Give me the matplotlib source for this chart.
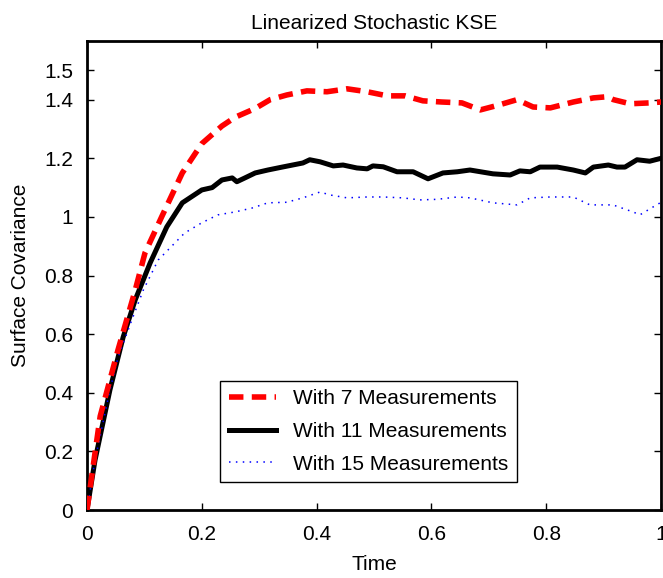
import matplotlib
matplotlib.use("Agg")
import matplotlib.pyplot as plt

plt.rcParams['font.family'] = ['Liberation Sans', 'DejaVu Sans']

# values
x_7 = [0, .023, .054, .084, .101, .13, .166, .2, .235, .258, .293, .319, .348,
       .383, .418, .453, .488, .523, .554, .585, .618, .653, .685, .714, .749,
       .777, .807, .847, .882, .906, .917, .946, .98, 1.0]
y_7 = [0, .32, .546, .75, .877, 1.0, 1.15, 1.25, 1.31, 1.34, 1.37, 1.40, 1.416,
       1.43, 1.427, 1.437, 1.427, 1.413, 1.413, 1.396, 1.392, 1.389, 1.365, 1.38,
       1.40, 1.375, 1.372, 1.392, 1.406, 1.41, 1.40, 1.386, 1.389, 1.392]

x_11 = [0, .014, .04, .063, .084, .11, .139, .166, .183, .2, .218, .235, .253,
        .261, .275, .293, .315, .34, .376, .388, .406, .429, .446, .47, .488,
        .498, .516, .54, .568, .594, .62, .645, .667, .707, .737, .754, .772,
        .789, .819, .847, .868, .882, .908, .923, .937, .958, .98, 1.0]
y_11 = [0, .17, .41, .59, .717, .843, .966, 1.048, 1.07, 1.092, 1.10, 1.126,
        1.133, 1.12, 1.133, 1.15, 1.16, 1.17, 1.184, 1.195, 1.188, 1.174, 1.177,
        1.167, 1.164, 1.174, 1.171, 1.154, 1.154, 1.13, 1.15, 1.154, 1.16, 1.147,
        1.143, 1.157, 1.154, 1.17, 1.17, 1.16, 1.15, 1.17, 1.177, 1.17, 1.17,
        1.195, 1.19, 1.2]

x_15 = [0, .014, .04, .054, .078, .098, .124, .17, .2, .228, .258, .287, .315,
        .348, .376, .406, .423, .453, .488, .516, .55, .58, .61, .645, .667,
        .707, .749, .772, .807, .847, .876, .916, .951, .963, .986, 1.0]
y_15 = [0, .17, .41, .52, .648, .75, .853, .945, .98, 1.007, 1.017, 1.03, 1.048,
        1.05, 1.065, 1.085, 1.075, 1.065, 1.068, 1.068, 1.065, 1.058, 1.06,
        1.068, 1.065, 1.048, 1.041, 1.065, 1.068, 1.068, 1.041, 1.041, 1.017,
        1.007, 1.034, 1.05]

labels = ["With 7 Measurements", "With 11 Measurements", "With 15 Measurements"]
y_ticks = [0, 0.2, 0.4, 0.6, 0.8, 1, 1.2, 1.4, 1.5]
y_tick_labels = ["0", "0.2", "0.4", "0.6", "0.8", "1", "1.2", "1.4", "1.5"]
x_ticks = [0, 0.2, 0.4, 0.6, 0.8, 1]
x_tick_labels = ["0", "0.2", "0.4", "0.6", "0.8", "1"]

fig = plt.figure(figsize=(6.63, 5.78), dpi=100)
ax = fig.add_axes([0.1312, 0.1176, 0.866, 0.8114])

ax.plot(x_7, y_7, color="red", lw=4, dashes=(2.6, 1.5), label=labels[0], zorder=3)
ax.plot(x_11, y_11, color="black", lw=3.6, label=labels[1], zorder=2)
ax.plot(x_15, y_15, color="blue", lw=1.1, dashes=(1, 3.5), label=labels[2], zorder=2)

ax.set_xlim(0, 1)
ax.set_ylim(0, 1.6)
ax.set_xticks(x_ticks)
ax.set_xticklabels(x_tick_labels)
ax.set_yticks(y_ticks)
ax.set_yticklabels(y_tick_labels)
ax.tick_params(direction="in", top=True, right=True, labelsize=15, length=5, width=1)
ax.tick_params(axis="y", pad=10)
ax.tick_params(axis="x", pad=11)
for s in ax.spines.values():
    s.set_linewidth(2)

ax.set_title("Linearized Stochastic KSE", fontsize=15, pad=9)
ax.set_xlabel("Time", fontsize=15, labelpad=8)
ax.set_ylabel("Surface Covariance", fontsize=15, labelpad=10)

leg = ax.legend(loc="lower left", bbox_to_anchor=(0.232, 0.06), fontsize=15,
                fancybox=False, framealpha=1, edgecolor="black",
                handlelength=2.3, labelspacing=0.65, borderaxespad=0)
leg.get_frame().set_linewidth(1)

plt.savefig("out.png", dpi=100)
